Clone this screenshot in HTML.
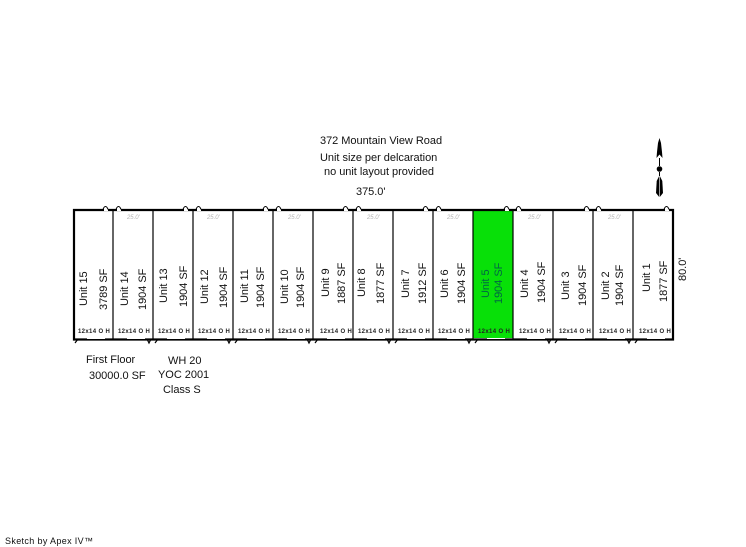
<!DOCTYPE html>
<html><head><meta charset="utf-8"><style>
html,body{margin:0;padding:0;background:#fff}
svg{display:block}
text{font-family:"Liberation Sans",Arial,sans-serif;font-size:11px;letter-spacing:-.03px;fill:#111}
.d{font-size:6px;font-style:italic;fill:#b5b5b5}
.o{font-size:6px;font-weight:bold;letter-spacing:.35px;fill:#222}
</style></head><body>
<svg width="746" height="547" viewBox="0 0 746 547" xmlns="http://www.w3.org/2000/svg">
<rect width="746" height="547" fill="#fff"/>
<rect x="473" y="210" width="40" height="128" fill="#08e008"/>
<g stroke="#000" stroke-width="1.2">
<path d="M113 210V339M153 210V339M193 210V339M233 210V339M273 210V339M313 210V339M353 210V339M393 210V339M433 210V339M473 210V339M513 210V339M553 210V339M593 210V339M633 210V339"/>
</g>
<path d="M74 339.500V210H673V339.500Z" fill="none" stroke="#000" stroke-width="2.200"/>
<g fill="#fff" stroke="none">
<rect x="104" y="208" width="4" height="3"/><rect x="117" y="208" width="4" height="3"/>
<rect x="184" y="208" width="4" height="3"/><rect x="197" y="208" width="4" height="3"/>
<rect x="264" y="208" width="4" height="3"/><rect x="277" y="208" width="4" height="3"/>
<rect x="344" y="208" width="4" height="3"/><rect x="357" y="208" width="4" height="3"/>
<rect x="424" y="208" width="4" height="3"/><rect x="437" y="208" width="4" height="3"/>
<rect x="505" y="208" width="4" height="3"/><rect x="517" y="208" width="4" height="3"/>
<rect x="585" y="208" width="4" height="3"/><rect x="597" y="208" width="4" height="3"/>
<rect x="665" y="208" width="4" height="3"/>
</g>
<g fill="none" stroke="#000" stroke-width="1">
<path d="M103 209.500q1-3 2.500-3t2.500 3M116 209.500q1-3 2.500-3t2.500 3"/>
<path d="M183 209.500q1-3 2.500-3t2.500 3M196 209.500q1-3 2.500-3t2.500 3"/>
<path d="M263 209.500q1-3 2.500-3t2.500 3M276 209.500q1-3 2.500-3t2.500 3"/>
<path d="M343 209.500q1-3 2.500-3t2.500 3M356 209.500q1-3 2.500-3t2.500 3"/>
<path d="M423 209.500q1-3 2.500-3t2.500 3M436 209.500q1-3 2.500-3t2.500 3"/>
<path d="M504 209.500q1-3 2.500-3t2.500 3M516 209.500q1-3 2.500-3t2.500 3"/>
<path d="M584 209.500q1-3 2.500-3t2.500 3M596 209.500q1-3 2.500-3t2.500 3"/>
<path d="M664 209.500q1-3 2.500-3t2.500 3"/>
</g>
<g fill="#fff">
<rect x="87" y="338" width="18" height="1"/><rect x="127" y="338" width="18" height="1"/>
<rect x="167" y="338" width="18" height="1"/><rect x="207" y="338" width="18" height="1"/>
<rect x="247" y="338" width="18" height="1"/><rect x="287" y="338" width="18" height="1"/>
<rect x="327" y="338" width="18" height="1"/><rect x="367" y="338" width="18" height="1"/>
<rect x="407" y="338" width="18" height="1"/><rect x="447" y="338" width="18" height="1"/>
<rect x="487" y="338" width="18" height="1"/><rect x="527" y="338" width="18" height="1"/>
<rect x="567" y="338" width="18" height="1"/><rect x="607" y="338" width="18" height="1"/>
<rect x="647" y="338" width="18" height="1"/>
</g>
<g fill="none" stroke="#000" stroke-width="1.200">
<path d="M75 343l3-4M147 339l2 4 2-4M155 343l3-4M227 339l2 4 2-4M235 343l3-4M307 339l2 4 2-4M315 343l3-4M387 339l2 4 2-4M395 343l3-4M467 339l2 4 2-4M475 343l3-4M547 339l2 4 2-4M555 343l3-4M627 339l2 4 2-4M635 343l3-4"/>
</g>
<g>
<text class="d" x="127" y="219">25.0'</text><text class="d" x="207" y="219">25.0'</text>
<text class="d" x="288" y="219">25.0'</text><text class="d" x="367" y="219">25.0'</text>
<text class="d" x="447" y="219">25.0'</text><text class="d" x="528" y="219">25.0'</text>
<text class="d" x="608" y="219">25.0'</text>
</g>
<g>
<text class="o" x="78" y="333">12x14 O H</text><text class="o" x="118" y="333">12x14 O H</text>
<text class="o" x="158" y="333">12x14 O H</text><text class="o" x="198" y="333">12x14 O H</text>
<text class="o" x="238" y="333">12x14 O H</text><text class="o" x="278" y="333">12x14 O H</text>
<text class="o" x="320" y="333">12x14 O H</text><text class="o" x="358" y="333">12x14 O H</text>
<text class="o" x="398" y="333">12x14 O H</text><text class="o" x="438" y="333">12x14 O H</text>
<text class="o" x="478" y="333">12x14 O H</text><text class="o" x="519" y="333">12x14 O H</text>
<text class="o" x="559" y="333">12x14 O H</text><text class="o" x="599" y="333">12x14 O H</text>
<text class="o" x="639" y="333">12x14 O H</text>
</g>
<g>
<text transform="translate(87 306) rotate(-90)">Unit 15</text><text transform="translate(107 310) rotate(-90)">3789 SF</text>
<text transform="translate(128 306) rotate(-90)">Unit 14</text><text transform="translate(146 310) rotate(-90)">1904 SF</text>
<text transform="translate(167 303) rotate(-90)">Unit 13</text><text transform="translate(187 307) rotate(-90)">1904 SF</text>
<text transform="translate(208 304) rotate(-90)">Unit 12</text><text transform="translate(227 308) rotate(-90)">1904 SF</text>
<text transform="translate(248 303) rotate(-90)">Unit 11</text><text transform="translate(264 308) rotate(-90)">1904 SF</text>
<text transform="translate(288 304) rotate(-90)">Unit 10</text><text transform="translate(304 308) rotate(-90)">1904 SF</text>
<text transform="translate(329 297) rotate(-90)">Unit 9</text><text transform="translate(345 304) rotate(-90)">1887 SF</text>
<text transform="translate(365 297) rotate(-90)">Unit 8</text><text transform="translate(384 304) rotate(-90)">1877 SF</text>
<text transform="translate(409 298) rotate(-90)">Unit 7</text><text transform="translate(426 304) rotate(-90)">1912 SF</text>
<text transform="translate(448 298) rotate(-90)">Unit 6</text><text transform="translate(465 304) rotate(-90)">1904 SF</text>
<text transform="translate(489 298) rotate(-90)" style="fill:#064">Unit 5</text><text transform="translate(502 304) rotate(-90)" style="fill:#064">1904 SF</text>
<text transform="translate(528 298) rotate(-90)">Unit 4</text><text transform="translate(545 303) rotate(-90)">1904 SF</text>
<text transform="translate(569 300) rotate(-90)">Unit 3</text><text transform="translate(586 306) rotate(-90)">1904 SF</text>
<text transform="translate(609 300) rotate(-90)">Unit 2</text><text transform="translate(623 306) rotate(-90)">1904 SF</text>
<text transform="translate(650 292) rotate(-90)">Unit 1</text><text transform="translate(667 302) rotate(-90)">1877 SF</text>
<text transform="translate(686 281) rotate(-90)">80.0'</text>
</g>
<text x="320" y="144">372 Mountain View Road</text>
<text x="320" y="161">Unit size per delcaration</text>
<text x="324" y="175">no unit layout provided</text>
<text x="356" y="195">375.0'</text>
<text x="86" y="363">First Floor</text>
<text x="89" y="379">30000.0 SF</text>
<text x="168" y="364">WH 20</text>
<text x="158" y="378">YOC 2001</text>
<text x="163" y="393">Class S</text>
<text x="5" y="544" style="font-size:9px;letter-spacing:.35px">Sketch by Apex IV™</text>
<g fill="#000">
<path d="M659.500 138l1.500 5 1 9 .5 6-3-3.500-3 3.500.5-6 1-9z"/>
<path d="M659.500 158v8M659.500 172v4" stroke="#000" stroke-width="1"/>
<circle cx="659.500" cy="169" r="2.800"/>
<path d="M659.200 176l-2.500 5-.7 12 3.200 4z"/>
<path d="M659.800 176l2.500 5 .7 12-3.200 4z"/>
</g>
</svg>
</body></html>
